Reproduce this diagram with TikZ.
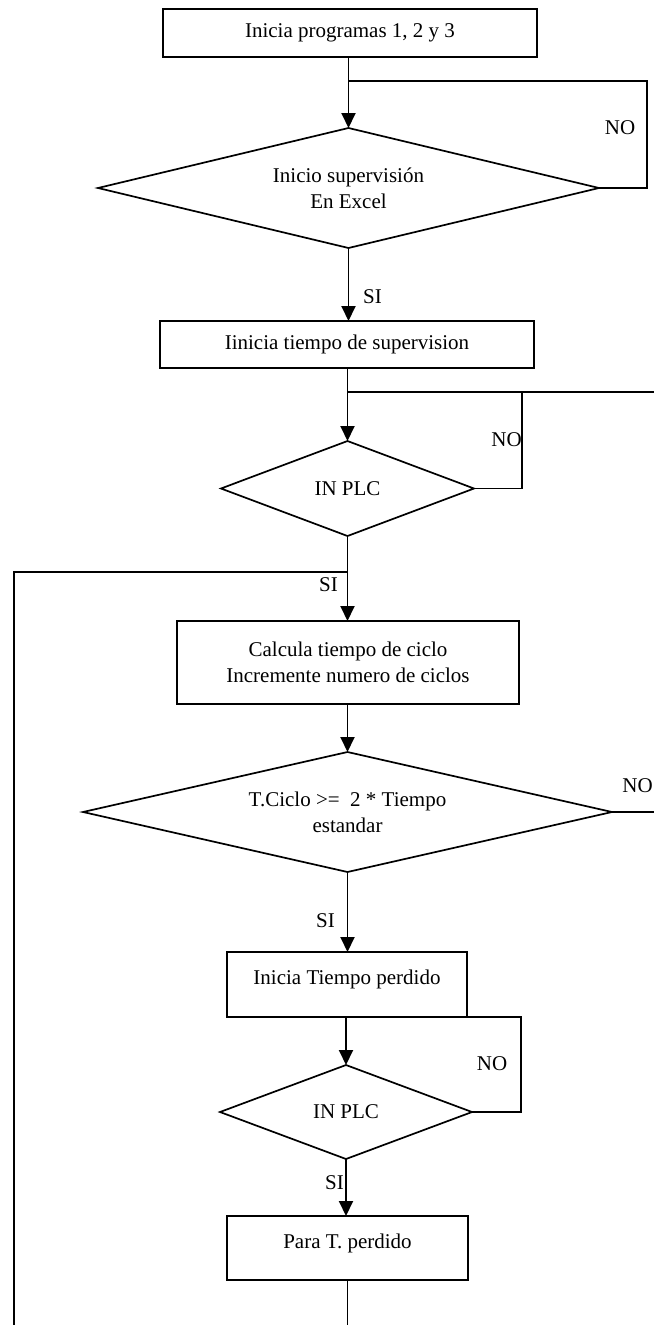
\documentclass[tikz,border=0pt]{standalone}
\usepackage{fontspec}
\setmainfont{Liberation Serif}
\usetikzlibrary{shapes.geometric,arrows.meta}
\begin{document}
\begin{tikzpicture}[x=1pt,y=-1pt,
  every node/.style={font=\fontsize{21}{26}\selectfont},
  procbox/.style={draw, line width=1.7pt, rectangle, inner sep=0pt, outer sep=0pt, align=center},
  decision/.style={draw, line width=1.7pt, diamond, inner sep=0pt, outer sep=0pt, align=center},
  flow/.style={line width=1.9pt, -{Triangle[length=15pt,width=14pt]}},
  link/.style={line width=1.7pt},
  tag/.style={inner sep=0pt}]

\useasboundingbox (0,0) rectangle (654,1325);
\fill[white] (0,0) rectangle (654,1325);

% process boxes and decisions
\node[procbox, minimum width=374pt, minimum height=48pt] (b1) at (350,33) {Inicia programas 1, 2 y 3};
\node[decision, shape aspect=4.17, minimum width=501pt, minimum height=120pt] (d1) at (348.5,188) {Inicio supervisión\\En Excel};
\node[procbox, minimum width=374pt, minimum height=47pt] (b2) at (347,344.5) {Iinicia tiempo de supervision};
\node[decision, shape aspect=2.66, minimum width=253pt, minimum height=95pt] (d2) at (347.5,488.5) {IN PLC};
\node[procbox, minimum width=342pt, minimum height=83pt] (b3) at (348,662.5) {Calcula tiempo de ciclo\\Incremente numero de ciclos};
\node[decision, shape aspect=4.41, minimum width=529pt, minimum height=120pt] (d3) at (347.5,812) {T.Ciclo >=\ \ 2 * Tiempo\\estandar};
\node[procbox, minimum width=240pt, minimum height=65pt, text height=15pt, text depth=15pt] (b4) at (347,984.5) {Inicia Tiempo perdido};
\node[decision, shape aspect=2.68, minimum width=252pt, minimum height=94pt] (d4) at (346,1112) {IN PLC};
\node[procbox, minimum width=241pt, minimum height=64pt, text height=15pt, text depth=15pt] (b5) at (347.5,1248) {Para T. perdido};

% start -> first decision, with its NO loop
\coordinate (j1) at (348.5,81);
\coordinate (r1) at (647,81);
\draw[flow] (d1.north |- b1.south) -- (d1.north);
\draw[link] (d1.east) -| (r1) -- (j1);
\node[tag] at (620,128) {NO};

\draw[flow] (d1.south) -- (d1.south |- b2.north);
\node[tag, anchor=west] at (363,297) {SI};

% PLC input wait loop
\coordinate (j2) at (348,392);
\coordinate (r2) at (522,392);
\coordinate (e2) at (654,392);
\draw[flow] (d2.north |- b2.south) -- (d2.north);
\draw[link] (j2) -- (e2);
\draw[link] (d2.east) -| (r2);
\node[tag, anchor=east] at (522,440) {NO};

% return path on the left
\coordinate (j3) at (348,572);
\coordinate (l1) at (14,572);
\coordinate (l2) at (14,1325);
\draw[flow] (d2.south) -- (d2.south |- b3.north);
\draw[link] (l2) -- (l1) -- (j3);
\node[tag, anchor=east] at (338,585) {SI};

% cycle time check
\coordinate (e3) at (654,812);
\draw[flow] (d3.north |- b3.south) -- (d3.north);
\draw[link] (d3.east) -- (e3);
\node[tag, anchor=east] at (653,786) {NO};

\draw[flow] (d3.south) -- (d3.south |- b4.north);
\node[tag, anchor=east] at (335,921) {SI};

% lost time wait loop
\coordinate (r4) at (521,1017);
\draw[flow] (d4.north |- b4.south) -- (d4.north);
\draw[link] (d4.east) -| (r4) -- (b4.south east);
\node[tag] at (492,1064) {NO};

\draw[flow] (d4.south) -- (d4.south |- b5.north);
\node[tag, anchor=east] at (344,1183) {SI};

\coordinate (e5) at (348,1325);
\draw[link] (b5.south) -- (b5.south |- e5);
\end{tikzpicture}
\end{document}
